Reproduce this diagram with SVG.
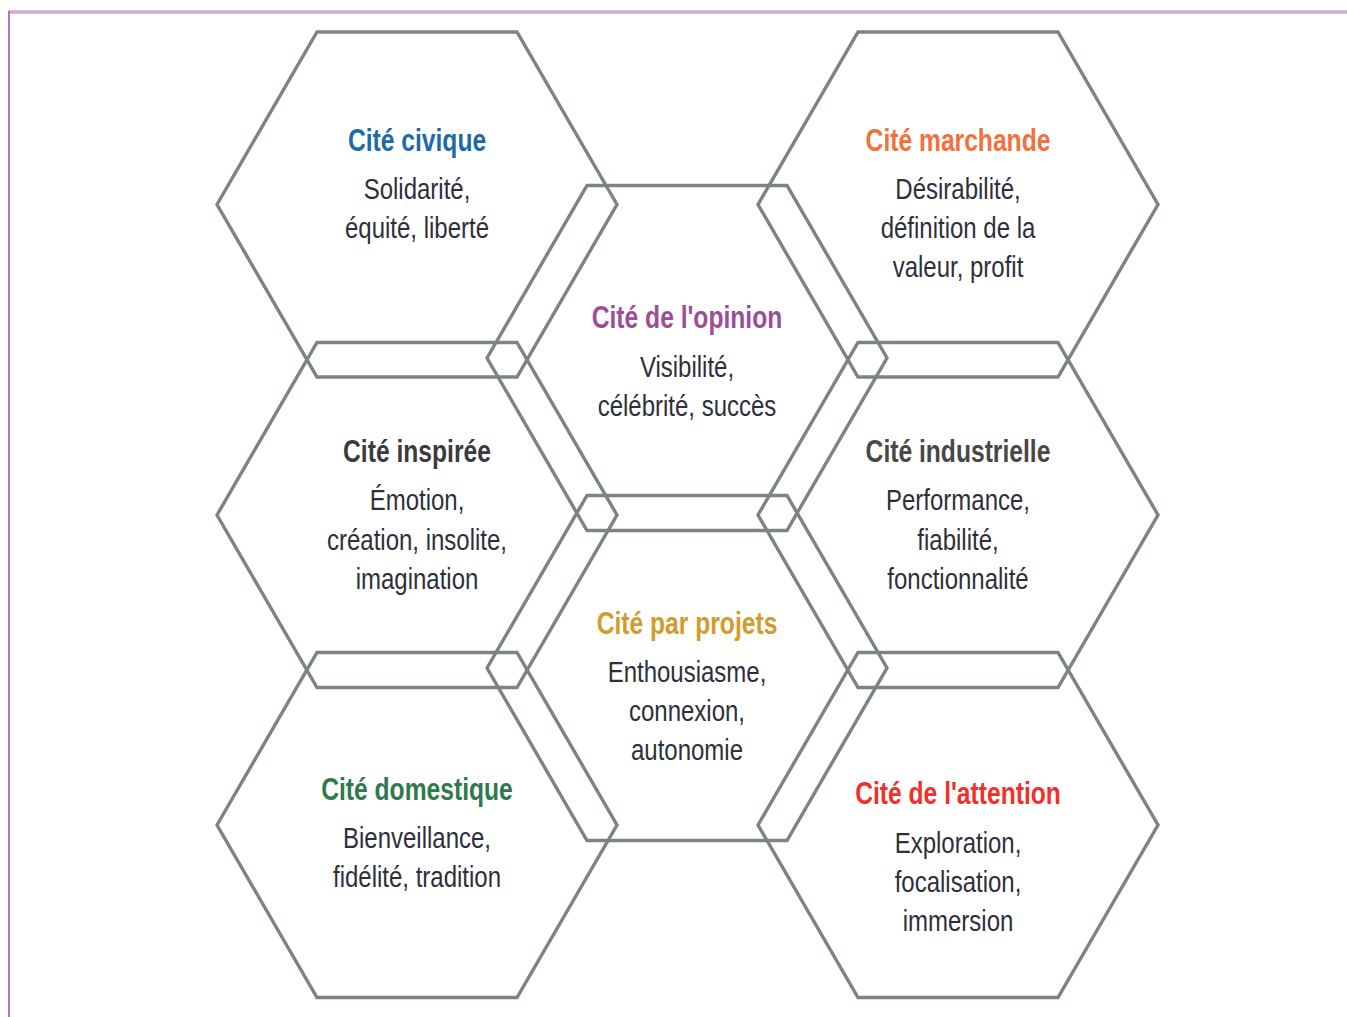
<svg xmlns="http://www.w3.org/2000/svg" xmlns:xlink="http://www.w3.org/1999/xlink" width="1347" height="1017" viewBox="0 0 1347 1017">
<style>
.hex{fill:none;stroke:#7b8386;stroke-width:3.4;stroke-linejoin:miter}
.t{font-family:"Liberation Sans",Arial,sans-serif;font-weight:bold;font-size:32px;text-anchor:middle}
.b{font-family:"Liberation Sans",Arial,sans-serif;font-size:30px;text-anchor:middle;fill:#2f2f3a}
</style>
<defs>
<polygon id="hex" points="-200,0 -100,-172.5 100,-172.5 200,0 100,172.5 -100,172.5"/>
</defs>
<rect width="1347" height="1017" fill="#ffffff"/>
<g id="frame">
<line x1="8" y1="12" x2="1347" y2="12" stroke="#d2abd4" stroke-width="3.5"/>
<line x1="9" y1="11" x2="9" y2="1017" stroke="#b07ab6" stroke-width="2"/>
</g>
<g id="connectors"></g>
<g id="civique">
<use href="#hex" xlink:href="#hex" class="hex" x="417" y="204.5"/>
<text class="t" transform="translate(417 0) scale(0.77 1)" x="0" y="151" fill="#1d6aa5">Cité civique</text>
<g transform="translate(417 0) scale(0.8 1)">
<text class="b" x="0" y="199">Solidarité,</text>
<text class="b" x="0" y="238">équité, liberté</text>
</g>
</g>
<g id="marchande">
<use href="#hex" xlink:href="#hex" class="hex" x="958" y="204.5"/>
<text class="t" transform="translate(958 0) scale(0.77 1)" x="0" y="151" fill="#f2703c">Cité marchande</text>
<g transform="translate(958 0) scale(0.8 1)">
<text class="b" x="0" y="199">Désirabilité,</text>
<text class="b" x="0" y="238">définition de la</text>
<text class="b" x="0" y="277">valeur, profit</text>
</g>
</g>
<g id="opinion">
<use href="#hex" xlink:href="#hex" class="hex" x="687" y="358"/>
<text class="t" transform="translate(687 0) scale(0.77 1)" x="0" y="328" fill="#9a4e98">Cité de l'opinion</text>
<g transform="translate(687 0) scale(0.8 1)">
<text class="b" x="0" y="377">Visibilité,</text>
<text class="b" x="0" y="416">célébrité, succès</text>
</g>
</g>
<g id="inspiree">
<use href="#hex" xlink:href="#hex" class="hex" x="417" y="515"/>
<text class="t" transform="translate(417 0) scale(0.77 1)" x="0" y="462" fill="#3b3b3f">Cité inspirée</text>
<g transform="translate(417 0) scale(0.8 1)">
<text class="b" x="0" y="510">Émotion,</text>
<text class="b" x="0" y="550">création, insolite,</text>
<text class="b" x="0" y="589">imagination</text>
</g>
</g>
<g id="industrielle">
<use href="#hex" xlink:href="#hex" class="hex" x="958" y="515"/>
<text class="t" transform="translate(958 0) scale(0.77 1)" x="0" y="462" fill="#4a4745">Cité industrielle</text>
<g transform="translate(958 0) scale(0.8 1)">
<text class="b" x="0" y="510">Performance,</text>
<text class="b" x="0" y="550">fiabilité,</text>
<text class="b" x="0" y="589">fonctionnalité</text>
</g>
</g>
<g id="projets">
<use href="#hex" xlink:href="#hex" class="hex" x="687" y="668"/>
<text class="t" transform="translate(687 0) scale(0.77 1)" x="0" y="634" fill="#d39b2c">Cité par projets</text>
<g transform="translate(687 0) scale(0.8 1)">
<text class="b" x="0" y="682">Enthousiasme,</text>
<text class="b" x="0" y="721">connexion,</text>
<text class="b" x="0" y="760">autonomie</text>
</g>
</g>
<g id="domestique">
<use href="#hex" xlink:href="#hex" class="hex" x="417" y="825"/>
<text class="t" transform="translate(417 0) scale(0.77 1)" x="0" y="800" fill="#2f7a4c">Cité domestique</text>
<g transform="translate(417 0) scale(0.8 1)">
<text class="b" x="0" y="848">Bienveillance,</text>
<text class="b" x="0" y="887">fidélité, tradition</text>
</g>
</g>
<g id="attention">
<use href="#hex" xlink:href="#hex" class="hex" x="958" y="825"/>
<text class="t" transform="translate(958 0) scale(0.77 1)" x="0" y="804" fill="#f0312b">Cité de l'attention</text>
<g transform="translate(958 0) scale(0.8 1)">
<text class="b" x="0" y="853">Exploration,</text>
<text class="b" x="0" y="892">focalisation,</text>
<text class="b" x="0" y="931">immersion</text>
</g>
</g>
</svg>
